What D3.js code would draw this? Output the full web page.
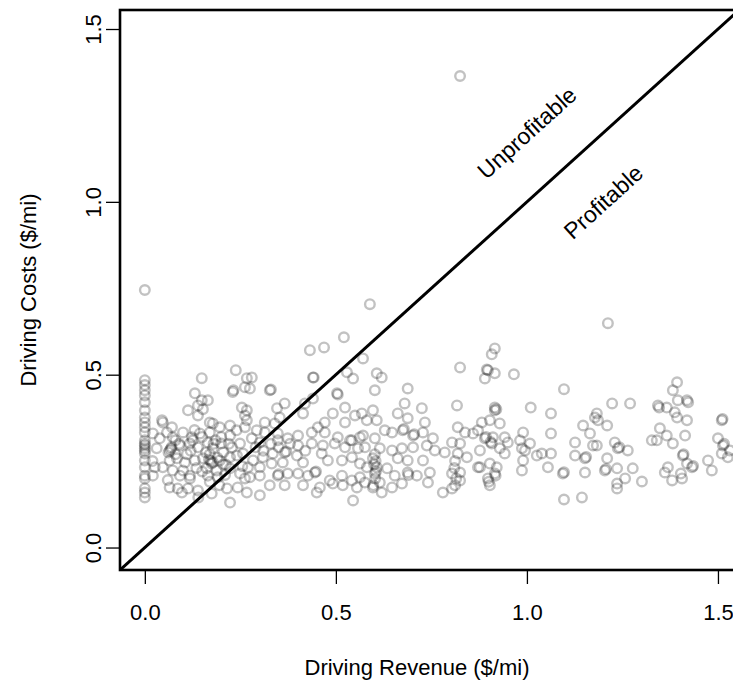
<!DOCTYPE html>
<html>
<head>
<meta charset="utf-8">
<script src="https://cdn.jsdelivr.net/npm/d3@7/dist/d3.min.js"></script>
<style>
  html, body { margin: 0; padding: 0; background: #fff; }
  svg { display: block; }
  text { font-family: "Liberation Sans", Arial, Helvetica, sans-serif; fill: #000; }
</style>
</head>
<body>
<svg id="chart" width="733" height="688"></svg>
<script>
// ---------------- data ----------------
const revenue = [
  // revenue = 0 column
  0,0,0,0,0,0,0,0,0,0,0,0,0,0,0,0,0,0,0,0,0,0,0,0,
  // dense low-revenue cluster
  0.149,0.238,0.267,0.23,0.232,0.262,0.131,0.149,0.165,0.139,0.152,0.113,0.139,0.17,0.254,0.262,
  0.045,0.071,0.058,0.039,0.031,0.073,0.1,0.123,0.144,0.17,0.178,0.196,0.223,0.24,0.262,0.223,
  0.065,0.068,0.092,0.118,0.139,0.165,0.178,0.20,0.228,0.249,0.065,0.084,0.105,0.131,0.152,0.175,
  0.178,0.196,0.223,0.241,0.257,0.026,0.047,0.073,0.1,0.162,0.188,0.223,0.021,0.092,0.118,0.165,
  0.191,0.249,0.118,0.065,0.086,0.097,0.113,0.139,0.175,0.215,0.243,0.223,0.267,
  0.021,0.047,0.16,0.185,0.205,0.11,0.135,0.06,0.212,0.255,0.02,0.08,0.195,0.17,0.14,0.262,
  0.08,0.12,0.15,0.18,0.20,0.22,0.17,0.19,0.09,0.13,0.062,0.15,0.21,0.172,0.168,0.07,0.125,0.205,
  // 0.27 - 0.57
  0.28,0.275,0.327,0.44,0.529,0.545,0.503,0.366,0.346,0.419,0.44,0.414,0.353,0.34,0.314,0.293,
  0.314,0.267,0.267,0.471,0.492,0.524,0.524,0.55,0.453,0.437,0.471,0.505,0.542,0.537,0.563,0.401,
  0.374,0.348,0.348,0.301,0.28,0.401,0.437,0.466,0.497,0.524,0.558,0.366,0.37,0.335,0.309,0.283,
  0.27,0.301,0.332,0.361,0.398,0.414,0.445,0.448,0.463,0.479,0.516,0.542,0.563,0.275,0.301,0.348,
  0.35,0.374,0.401,0.427,0.484,0.516,0.542,0.563,0.327,0.366,0.414,0.458,0.492,0.518,0.555,0.301,
  0.45,0.545,
  0.589,0.521,0.432,0.469,0.442,0.571,0.33,0.505,
  0.29,0.31,0.33,0.38,0.35,0.42,
  // 0.57 - 0.87
  0.825,0.607,0.62,0.602,0.688,0.68,0.817,0.568,0.597,0.662,0.725,0.733,0.688,0.581,0.607,0.628,
  0.647,0.675,0.678,0.702,0.705,0.728,0.754,0.571,0.602,0.819,0.838,0.859,0.804,0.825,0.576,0.615,
  0.647,0.673,0.702,0.738,0.759,0.785,0.819,0.843,0.597,0.662,0.688,0.728,0.872,0.581,0.607,0.634,
  0.602,0.605,0.654,0.688,0.69,0.712,0.746,0.804,0.825,0.576,0.615,0.647,0.673,0.741,0.812,0.825,
  0.597,0.62,0.78,0.804,
  0.602,0.604,0.6,0.603,0.598,0.812,0.81,0.815,
  0.825,
  // 0.87 - 1.18
  0.898,0.916,0.89,0.966,1.097,1.01,1.063,0.916,0.916,0.92,0.882,0.903,0.929,0.99,1.063,0.872,
  0.89,0.893,0.911,0.942,0.95,0.982,1.008,0.877,0.908,0.905,0.929,0.987,0.995,1.026,1.039,1.063,
  0.942,0.99,0.877,0.903,0.921,0.987,1.055,0.916,0.918,0.898,0.903,0.9,1.094,1.097,1.126,1.147,
  1.165,1.178,1.126,1.152,1.155,1.152,1.173,1.097,1.144,
  0.916,0.908,0.895,
  1.212,
  // 1.18 - 1.55
  1.223,1.27,1.183,1.186,1.21,1.183,1.23,1.238,1.242,1.264,1.21,1.204,1.207,1.236,1.277,1.257,
  1.236,1.236,1.301,1.393,1.382,1.395,1.419,1.422,1.343,1.346,1.366,1.387,1.393,1.419,1.348,1.366,
  1.414,1.327,1.34,1.382,1.408,1.41,1.419,1.432,1.435,1.369,1.361,1.403,1.38,1.406,1.474,1.484,
  1.51,1.512,1.5,1.513,1.516,1.51,1.531,1.526
];
const cost = [
  0.745,0.484,0.47,0.455,0.44,0.42,0.397,0.376,0.362,0.348,0.333,0.31,0.30,0.295,0.287,0.28,0.272,0.252,0.232,0.208,0.2,0.171,0.159,0.145,
  0.49,0.513,0.49,0.45,0.455,0.464,0.446,0.426,0.426,0.411,0.40,0.397,0.382,0.362,0.405,0.382,
  0.368,0.348,0.333,0.316,0.287,0.319,0.333,0.319,0.33,0.333,0.359,0.348,0.353,0.339,0.348,0.324,
  0.281,0.285,0.295,0.301,0.29,0.304,0.287,0.301,0.29,0.301,0.252,0.258,0.246,0.252,0.258,0.243,
  0.247,0.252,0.261,0.266,0.272,0.232,0.232,0.223,0.223,0.229,0.223,0.229,0.208,0.208,0.208,0.208,
  0.203,0.214,0.2,0.174,0.171,0.159,0.171,0.165,0.156,0.171,0.174,0.13,0.159,
  0.33,0.362,0.275,0.31,0.275,0.27,0.23,0.195,0.24,0.235,0.25,0.31,0.18,0.19,0.145,0.2,
  0.27,0.28,0.32,0.30,0.32,0.30,0.27,0.26,0.30,0.34,0.275,0.22,0.21,0.25,0.255,0.29,0.31,0.24,
  0.492,0.46,0.455,0.492,0.507,0.489,0.446,0.417,0.403,0.417,0.431,0.388,0.376,0.359,0.362,0.339,
  0.333,0.368,0.397,0.362,0.388,0.405,0.362,0.382,0.348,0.333,0.333,0.319,0.31,0.31,0.319,0.324,
  0.316,0.33,0.31,0.304,0.316,0.295,0.301,0.295,0.301,0.29,0.287,0.275,0.278,0.272,0.261,0.252,
  0.232,0.232,0.243,0.246,0.266,0.246,0.217,0.22,0.272,0.252,0.252,0.261,0.243,0.203,0.208,0.208,
  0.212,0.214,0.214,0.208,0.194,0.208,0.194,0.203,0.18,0.18,0.18,0.174,0.185,0.18,0.174,0.151,
  0.159,0.136,
  0.704,0.608,0.571,0.579,0.492,0.547,0.457,0.443,
  0.29,0.28,0.3,0.3,0.29,0.28,
  0.521,0.504,0.492,0.455,0.46,0.417,0.411,0.388,0.397,0.388,0.403,0.362,0.374,0.368,0.368,0.339,
  0.333,0.339,0.343,0.324,0.328,0.333,0.316,0.324,0.316,0.348,0.333,0.33,0.304,0.301,0.29,0.287,
  0.281,0.287,0.29,0.295,0.281,0.275,0.272,0.261,0.258,0.258,0.252,0.252,0.232,0.232,0.232,0.229,
  0.214,0.22,0.208,0.217,0.21,0.208,0.217,0.214,0.217,0.188,0.188,0.174,0.185,0.188,0.18,0.194,
  0.174,0.159,0.159,0.171,
  0.27,0.25,0.24,0.2,0.18,0.25,0.23,0.2,
  1.364,
  0.513,0.504,0.489,0.501,0.458,0.405,0.388,0.397,0.405,0.4,0.362,0.368,0.359,0.333,0.33,0.339,
  0.316,0.32,0.319,0.319,0.304,0.31,0.301,0.281,0.301,0.305,0.287,0.287,0.281,0.266,0.272,0.272,
  0.272,0.252,0.232,0.243,0.232,0.223,0.232,0.214,0.208,0.2,0.18,0.19,0.214,0.218,0.304,0.353,
  0.33,0.376,0.266,0.258,0.262,0.217,0.295,0.139,0.145,
  0.576,0.559,0.515,
  0.649,
  0.417,0.417,0.388,0.368,0.353,0.295,0.304,0.287,0.29,0.281,0.258,0.223,0.227,0.229,0.229,0.2,
  0.185,0.171,0.191,0.478,0.455,0.426,0.426,0.42,0.411,0.405,0.405,0.391,0.376,0.368,0.345,0.324,
  0.324,0.31,0.31,0.301,0.266,0.27,0.243,0.232,0.236,0.232,0.217,0.214,0.194,0.2,0.252,0.223,
  0.368,0.372,0.316,0.295,0.3,0.272,0.281,0.261
];
const xTicks = [0, 0.5, 1.0, 1.5];
const yTicks = [0, 0.5, 1.0, 1.5];
const xLimits = [-0.065, 1.665];
const yLimits = [-0.065, 1.555];
const xTitle = "Driving Revenue ($/mi)";
const yTitle = "Driving Costs ($/mi)";
const regionLabels = [
  { text: "Unprofitable", x: 1.0, y: 1.2 },
  { text: "Profitable", x: 1.2, y: 1.0 }
];

// ---------------- layout ----------------
const plot = { left: 120, right: 781, top: 10, bottom: 570 };
const fontSize = 22;

const svg = d3.select("#chart");
const x = d3.scaleLinear().domain(xLimits).range([plot.left, plot.right]);
const y = d3.scaleLinear().domain(yLimits).range([plot.bottom, plot.top]);

svg.append("defs").append("clipPath").attr("id", "clip")
  .append("rect")
  .attr("x", plot.left).attr("y", plot.top)
  .attr("width", plot.right - plot.left).attr("height", plot.bottom - plot.top);

// points
const pts = revenue.map((r, i) => ({ r, c: cost[i] }));
svg.append("g").attr("clip-path", "url(#clip)")
  .selectAll("circle").data(pts).join("circle")
  .attr("cx", d => x(d.r))
  .attr("cy", d => y(d.c))
  .attr("r", 4.8)
  .attr("fill", "none")
  .attr("stroke", "rgba(0,0,0,0.24)")
  .attr("stroke-width", 2.4);

// break-even line (cost = revenue)
const lo = Math.min(xLimits[0], yLimits[0]), hi = Math.max(xLimits[1], yLimits[1]);
svg.append("line")
  .attr("clip-path", "url(#clip)")
  .attr("x1", x(lo)).attr("y1", y(lo))
  .attr("x2", x(hi)).attr("y2", y(hi))
  .attr("stroke", "#000").attr("stroke-width", 3);

// box
svg.append("rect")
  .attr("x", plot.left).attr("y", plot.top)
  .attr("width", plot.right - plot.left).attr("height", plot.bottom - plot.top)
  .attr("fill", "none").attr("stroke", "#000").attr("stroke-width", 2.6);

// x axis
const fmt = d3.format(".1f");
const gx = svg.append("g").attr("transform", `translate(0,${plot.bottom})`)
  .call(d3.axisBottom(x).tickValues(xTicks).tickFormat(fmt).tickSize(14).tickPadding(0));
gx.select(".domain").remove();
gx.selectAll(".tick line").attr("stroke", "#000").attr("stroke-width", 1.3);
gx.selectAll(".tick text")
  .attr("y", 50).attr("dy", 0)
  .style("font-size", fontSize + "px")
  .style("font-family", '"Liberation Sans", Arial, sans-serif');

// y axis
const gy = svg.append("g").attr("transform", `translate(${plot.left},0)`)
  .call(d3.axisLeft(y).tickValues(yTicks).tickFormat(fmt).tickSize(14).tickPadding(0));
gy.select(".domain").remove();
gy.selectAll(".tick line").attr("stroke", "#000").attr("stroke-width", 1.3);
gy.selectAll(".tick text")
  .attr("x", null).attr("dy", null)
  .attr("text-anchor", "middle")
  .attr("transform", "translate(-19,0) rotate(-90)")
  .style("font-size", fontSize + "px")
  .style("font-family", '"Liberation Sans", Arial, sans-serif');

// axis titles
svg.append("text")
  .attr("x", 417).attr("y", 675)
  .attr("text-anchor", "middle")
  .style("font-size", fontSize + "px")
  .text(xTitle);
svg.append("text")
  .attr("transform", `translate(36,${(plot.top + plot.bottom) / 2}) rotate(-90)`)
  .attr("text-anchor", "middle")
  .style("font-size", fontSize + "px")
  .text(yTitle);

// region labels, parallel to the break-even line
const angle = -Math.atan2(y(0) - y(1), x(1) - x(0)) * 180 / Math.PI;
svg.append("g").selectAll("text").data(regionLabels).join("text")
  .attr("transform", d => `translate(${x(d.x)},${y(d.y)}) rotate(${angle})`)
  .attr("text-anchor", "middle")
  .attr("dy", "0.35em")
  .style("font-size", "23px")
  .text(d => d.text);
</script>
</body>
</html>
